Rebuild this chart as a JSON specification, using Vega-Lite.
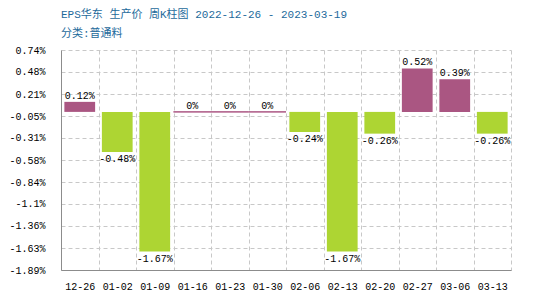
{
  "$schema": "https://vega.github.io/schema/vega-lite/v6.json",
  "width": 450,
  "height": 220,
  "autosize": {"type": "none"},
  "padding": {"left": 61, "top": 50, "right": 49, "bottom": 30},
  "background": "white",
  "title": {
    "text": "EPS华东 生产价 周K柱图 2022-12-26 - 2023-03-19",
    "subtitle": "分类:普通料",
    "anchor": "start",
    "frame": "group",
    "font": "Liberation Mono, Noto Sans CJK SC",
    "fontSize": 11,
    "fontWeight": "normal",
    "color": "#1d6a9b",
    "subtitleFont": "Liberation Mono, Noto Sans CJK SC",
    "subtitleFontSize": 11,
    "subtitleColor": "#1d6a9b",
    "subtitlePadding": 8,
    "offset": 6
  },
  "config": {
    "view": {"stroke": null},
    "axis": {
      "labelFont": "Liberation Mono",
      "labelFontSize": 10,
      "labelColor": "#000000",
      "labelOverlap": false,
      "ticks": false,
      "domainColor": "#8c8c8c",
      "gridColor": "#c8c8c8",
      "gridDash": [4, 3],
      "title": null
    }
  },
  "data": {
    "values": [
      {"week": "12-26", "change": 0.12},
      {"week": "01-02", "change": -0.48},
      {"week": "01-09", "change": -1.67},
      {"week": "01-16", "change": 0},
      {"week": "01-23", "change": 0},
      {"week": "01-30", "change": 0},
      {"week": "02-06", "change": -0.24},
      {"week": "02-13", "change": -1.67},
      {"week": "02-20", "change": -0.26},
      {"week": "02-27", "change": 0.52},
      {"week": "03-06", "change": 0.39},
      {"week": "03-13", "change": -0.26}
    ]
  },
  "transform": [{"calculate": "datum.change + '%'", "as": "label"}],
  "encoding": {
    "x": {
      "field": "week",
      "type": "ordinal",
      "sort": null,
      "scale": {"paddingInner": 0, "paddingOuter": 0},
      "axis": {"labelAngle": 0, "grid": true, "tickBand": "extent", "labelPadding": 11, "labelOverlap": false}
    }
  },
  "layer": [
    {
      "mark": {"type": "bar", "width": {"band": 0.82}},
      "encoding": {
        "y": {
          "field": "change",
          "type": "quantitative",
          "scale": {"domain": [-1.89, 0.74], "nice": false, "zero": false},
          "axis": {
            "values": [0.74, 0.48, 0.21, -0.05, -0.31, -0.58, -0.84, -1.1, -1.36, -1.63, -1.89],
            "tickCount": 20,
            "labelExpr": "datum.value + '%'",
            "grid": true,
            "labelOverlap": false,
            "labelFlush": false,
            "labelPadding": 16
          }
        },
        "y2": {"datum": 0},
        "color": {
          "condition": {"test": "datum.change < 0", "value": "#add533"},
          "value": "#aa5682"
        }
      }
    },
    {
      "mark": {"type": "rule", "color": "#8c8c8c", "strokeWidth": 1},
      "encoding": {"y": {"datum": 0}}
    },
    {
      "transform": [{"filter": "datum.change == 0"}],
      "mark": {"type": "bar", "width": {"band": 1}, "stroke": "#aa5682", "strokeWidth": 1, "fill": "#aa5682"},
      "encoding": {
        "y": {"datum": 0},
        "y2": {"datum": 0}
      }
    },
    {
      "transform": [{"filter": "datum.change >= 0"}],
      "mark": {"type": "text", "baseline": "bottom", "dy": -1, "font": "Liberation Mono", "fontSize": 10, "color": "#000000"},
      "encoding": {
        "y": {"field": "change", "type": "quantitative"},
        "text": {"field": "label"}
      }
    },
    {
      "transform": [{"filter": "datum.change < 0"}],
      "mark": {"type": "text", "baseline": "top", "dy": 2, "font": "Liberation Mono", "fontSize": 10, "color": "#000000"},
      "encoding": {
        "y": {"field": "change", "type": "quantitative"},
        "text": {"field": "label"}
      }
    }
  ]
}
